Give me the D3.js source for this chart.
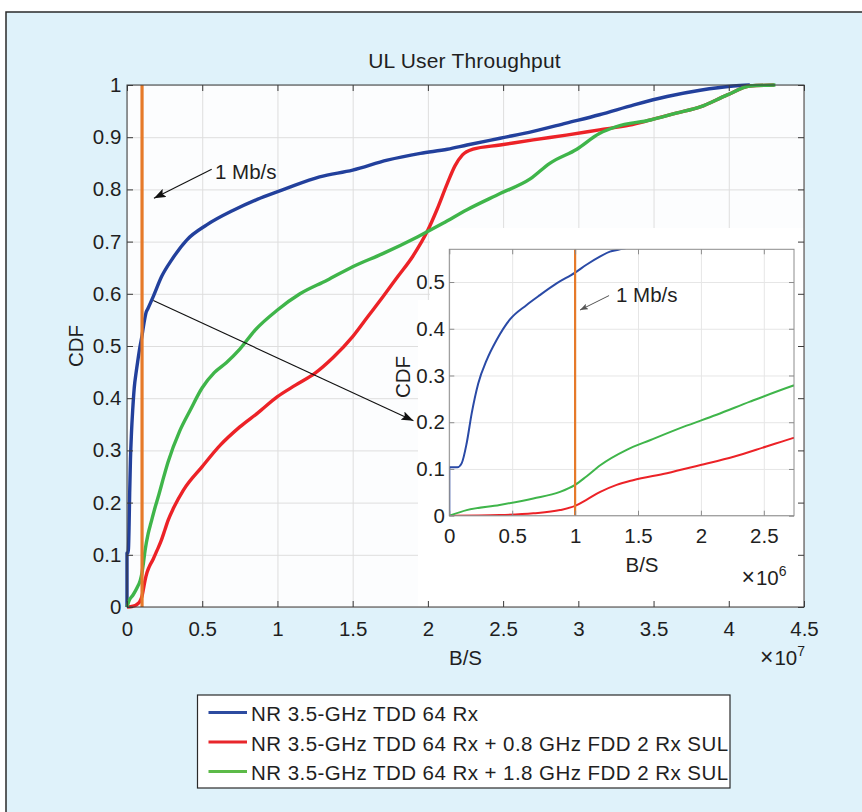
<!DOCTYPE html>
<html><head><meta charset="utf-8">
<script src="https://cdn.jsdelivr.net/npm/d3@7/dist/d3.min.js"></script>
<style>
body{margin:0;background:#fff}
svg{display:block}
text{font-family:"Liberation Sans",Arial,Helvetica,sans-serif;fill:#1f1f1f}
</style>
</head><body>
<svg id="chart" width="862" height="812"></svg>
<script>
// ---------------- data (B/S, CDF) ----------------
const seriesNames = [
  "NR 3.5-GHz TDD 64 Rx",
  "NR 3.5-GHz TDD 64 Rx + 0.8 GHz FDD 2 Rx SUL",
  "NR 3.5-GHz TDD 64 Rx + 1.8 GHz FDD 2 Rx SUL"
];
const blueData = [
  [0,0],[1,0.1035],[0.064e6,0.1035],[0.098e6,0.112],[0.138e6,0.155],[0.178e6,0.219],
  [0.23e6,0.283],[0.297e6,0.333],[0.376e6,0.376],[0.482e6,0.42],[0.615e6,0.451],
  [0.72e6,0.472],[0.853e6,0.497],[1.0e6,0.52],[1.09e6,0.537],[1.2e6,0.555],
  [1.277e6,0.565],[1.378e6,0.571],[1.75e6,0.595],[2.3e6,0.633],[2.97e6,0.665],
  [3.97e6,0.703],[5.3e6,0.732],[7.07e6,0.76],[8.84e6,0.783],[10.6e6,0.802],
  [12.8e6,0.824],[15e6,0.837],[17.3e6,0.856],[19.5e6,0.869],[21.3e6,0.877],
  [22.6e6,0.885],[24.8e6,0.898],[27e6,0.911],[29.2e6,0.927],[31.4e6,0.943],
  [33.7e6,0.962],[35.9e6,0.978],[38.1e6,0.99],[40.3e6,0.998],[41.4e6,1.0]
];
const redData = [
  [0,0],[0.4e6,0.0014],[0.668e6,0.005],[0.88e6,0.012],[1.0e6,0.021],[1.09e6,0.034],
  [1.2e6,0.051],[1.33e6,0.066],[1.46e6,0.076],[1.73e6,0.091],[1.99e6,0.108],
  [2.26e6,0.126],[2.52e6,0.148],[2.73e6,0.166],[3.1e6,0.19],[3.75e6,0.224],
  [5e6,0.269],[6.2e6,0.31],[7.5e6,0.345],[8.7e6,0.372],[10e6,0.403],
  [11.2e6,0.425],[12.5e6,0.448],[13.7e6,0.478],[15e6,0.518],[16e6,0.556],
  [17e6,0.594],[18e6,0.633],[19e6,0.672],[20e6,0.722],[20.6e6,0.761],
  [21.3e6,0.812],[21.8e6,0.845],[22.3e6,0.866],[23e6,0.877],[24.8e6,0.885],
  [27e6,0.895],[29.2e6,0.904],[31.4e6,0.914],[33.4e6,0.923],[34.8e6,0.933],
  [36.5e6,0.946],[38.1e6,0.958],[39.9e6,0.981],[41.4e6,0.998],[43e6,1.0]
];
const greenData = [
  [0,0],[0.138e6,0.012],[0.4e6,0.023],[0.668e6,0.037],[0.88e6,0.051],[1.0e6,0.066],
  [1.09e6,0.084],[1.2e6,0.108],[1.41e6,0.141],[1.6e6,0.162],[1.86e6,0.19],
  [2.125e6,0.216],[2.39e6,0.244],[2.73e6,0.278],[3.5e6,0.337],[4.2e6,0.377],
  [5e6,0.42],[5.8e6,0.449],[6.6e6,0.468],[7.5e6,0.494],[8.5e6,0.53],
  [10e6,0.569],[11.5e6,0.6],[13.3e6,0.626],[15e6,0.652],[17e6,0.677],
  [19.3e6,0.709],[21e6,0.735],[22.6e6,0.761],[24.8e6,0.792],[26.8e6,0.82],
  [28.1e6,0.85],[29.9e6,0.877],[31.4e6,0.907],[32.5e6,0.92],[34.8e6,0.933],
  [36.5e6,0.946],[38.1e6,0.958],[39.9e6,0.981],[41.4e6,0.998],[43.1e6,1.0]
];
const thresholdValue = 1e6; // 1 Mb/s

const mainXTicks = [0,0.5e7,1e7,1.5e7,2e7,2.5e7,3e7,3.5e7,4e7,4.5e7];
const mainXTickLabels = ["0","0.5","1","1.5","2","2.5","3","3.5","4","4.5"];
const mainYTicks = [0,0.1,0.2,0.3,0.4,0.5,0.6,0.7,0.8,0.9,1];
const mainYTickLabels = ["0","0.1","0.2","0.3","0.4","0.5","0.6","0.7","0.8","0.9","1"];
const insetXTicks = [0,0.5e6,1e6,1.5e6,2e6,2.5e6];
const insetXTickLabels = ["0","0.5","1","1.5","2","2.5"];
const insetYTicks = [0,0.1,0.2,0.3,0.4,0.5];
const insetYTickLabels = ["0","0.1","0.2","0.3","0.4","0.5"];

// ---------------- styles ----------------
const colors = ["#22409c","#ec2227","#3fb54a"];
const insetColors = ["#2a4aa6","#ec2227","#3fb54a"];
const legendColors = ["#2d4ba0","#e8262b","#5cba48"];
const orange = "#e67a2a";
const FS = 20.5;

const svg = d3.select("#chart");
const defs = svg.append("defs");
function marker(id, color, len, wid){
  defs.append("marker").attr("id",id).attr("markerUnits","userSpaceOnUse")
    .attr("viewBox",`0 0 ${len} ${wid}`).attr("markerWidth",len).attr("markerHeight",wid)
    .attr("refX",len).attr("refY",wid/2).attr("orient","auto")
    .append("path").attr("d",`M0,0L${len},${wid/2}L0,${wid}L${len*0.2},${wid/2}Z`).attr("fill",color);
}
marker("ahBlack","#111",12,9);
marker("ahGray","#555",8,6);

// frame
svg.append("rect").attr("x",6).attr("y",12).attr("width",900).attr("height",900)
  .attr("fill","#dff2fa").attr("stroke","#2a2a2a").attr("stroke-width",1.5);

// scales
const xMain = d3.scaleLinear().domain([0,4.5e7]).range([127,804]);
const yMain = d3.scaleLinear().domain([0,1]).range([607,85]);
const xIn = d3.scaleLinear().domain([0,2.74e6]).range([449.3,794]);
const yIn = d3.scaleLinear().domain([0,0.57]).range([515.7,249.3]);

function axesBox(g, x, y, xt, yt, o){
  const [x0,x1] = x.range(), [y0,y1] = y.range();
  g.append("rect").attr("x",x0).attr("y",y1).attr("width",x1-x0).attr("height",y0-y1).attr("fill",o.bg);
  const gx = g.append("g").attr("transform",`translate(0,${y0})`)
    .call(d3.axisBottom(x).tickValues(xt).tickSize(-(y0-y1)).tickFormat(""));
  const gy = g.append("g").attr("transform",`translate(${x0},0)`)
    .call(d3.axisLeft(y).tickValues(yt).tickSize(-(x1-x0)).tickFormat(""));
  [gx,gy].forEach(a=>{a.select(".domain").remove(); a.selectAll("line").attr("stroke",o.grid).attr("stroke-width",1);});
}
function axesFrame(g, x, y, xt, xl, yt, yl, o){
  const [x0,x1] = x.range(), [y0,y1] = y.range();
  const style = a => { a.select(".domain").remove(); a.attr("font-size",null).attr("font-family",null);
    a.selectAll("line").attr("stroke",o.axis).attr("stroke-width",1);
    a.selectAll("text").attr("font-size",FS).style("fill","#1f1f1f"); };
  g.append("g").attr("transform",`translate(0,${y0})`)
    .call(d3.axisBottom(x).tickValues(xt).tickSizeInner(-o.tick).tickSizeOuter(0).tickPadding(o.xpad).tickFormat((d,i)=>xl[i])).call(style);
  g.append("g").attr("transform",`translate(0,${y1})`)
    .call(d3.axisTop(x).tickValues(xt).tickSizeInner(-o.tick).tickSizeOuter(0).tickFormat("")).call(style);
  g.append("g").attr("transform",`translate(${x0},0)`)
    .call(d3.axisLeft(y).tickValues(yt).tickSizeInner(-o.tick).tickSizeOuter(0).tickPadding(o.ypad).tickFormat((d,i)=>yl[i])).call(style);
  g.append("g").attr("transform",`translate(${x1},0)`)
    .call(d3.axisRight(y).tickValues(yt).tickSizeInner(-o.tick).tickSizeOuter(0).tickFormat("")).call(style);
  g.append("rect").attr("x",x0).attr("y",y1).attr("width",x1-x0).attr("height",y0-y1)
    .attr("fill","none").attr("stroke",o.axis).attr("stroke-width",1);
}

// ---- main axes ----
const main = svg.append("g");
axesBox(main, xMain, yMain, mainXTicks, mainYTicks, {bg:"#fcfdfe", grid:"#dedede"});

// inset background panel (covers main grid)
main.append("rect").attr("x",430).attr("y",228).attr("width",804-430).attr("height",300-228).attr("fill","#ffffff");
main.append("rect").attr("x",418).attr("y",300).attr("width",804-418).attr("height",607-300).attr("fill","#ffffff");

const lineMain = d3.line().x(d=>xMain(d[0])).y(d=>yMain(d[1])).curve(d3.curveMonotoneX);
[blueData, redData, greenData].forEach((data,i)=>{
  main.append("path").datum(data).attr("d",lineMain).attr("fill","none")
    .attr("stroke",colors[i]).attr("stroke-width",3.4).attr("stroke-linejoin","round");
});
main.append("line").attr("x1",xMain(thresholdValue)).attr("x2",xMain(thresholdValue))
  .attr("y1",yMain(0)).attr("y2",yMain(1)).attr("stroke",orange).attr("stroke-width",3.2);

axesFrame(main, xMain, yMain, mainXTicks, mainXTickLabels, mainYTicks, mainYTickLabels, {axis:"#3a3a3a", tick:6, xpad:14.5, ypad:5.7});

// main annotations
main.append("line").attr("x1",xMain(5.63e6)).attr("y1",yMain(0.8385)).attr("x2",xMain(1.79e6)).attr("y2",yMain(0.783))
  .attr("stroke","#111").attr("stroke-width",1.1).attr("marker-end","url(#ahBlack)");
main.append("text").attr("x",xMain(5.85e6)).attr("y",yMain(0.82)).attr("font-size",FS).text("1 Mb/s");
main.append("line").attr("x1",xMain(1.75e6)).attr("y1",yMain(0.587)).attr("x2",xMain(19.04e6)).attr("y2",yMain(0.357))
  .attr("stroke","#111").attr("stroke-width",1.1).attr("marker-end","url(#ahBlack)");

// titles / labels
svg.append("text").attr("x",464.5).attr("y",68).attr("text-anchor","middle").attr("font-size",21)
  .attr("letter-spacing",0.2).text("UL User Throughput");
svg.append("text").attr("x",465.5).attr("y",665).attr("text-anchor","middle").attr("font-size",FS).text("B/S");
svg.append("text").attr("transform","translate(83,346) rotate(-90)").attr("text-anchor","middle").attr("font-size",FS).text("CDF");
const e7 = svg.append("text").attr("x",760).attr("y",665).attr("font-size",FS);
e7.append("tspan").attr("font-size",23).text("×");
e7.append("tspan").attr("dx",1).text("10");
e7.append("tspan").attr("dy",-9).attr("font-size",14).text("7");

// ---- inset ----
const inset = svg.append("g");
axesBox(inset, xIn, yIn, insetXTicks, insetYTicks, {bg:"#ffffff", grid:"#e6e6e6"});
const clip = defs.append("clipPath").attr("id","insetClip");
clip.append("rect").attr("x",449.3).attr("y",249.3).attr("width",794-449.3).attr("height",515.7-249.3);
const lineIn = d3.line().x(d=>xIn(d[0])).y(d=>yIn(d[1])).curve(d3.curveMonotoneX);
const insetPlot = inset.append("g").attr("clip-path","url(#insetClip)");
[blueData, redData, greenData].forEach((data,i)=>{
  insetPlot.append("path").datum(data.filter(d=>d[0]<=3.6e6)).attr("d",lineIn).attr("fill","none")
    .attr("stroke",insetColors[i]).attr("stroke-width",2).attr("stroke-linejoin","round");
});
insetPlot.append("line").attr("x1",xIn(thresholdValue)).attr("x2",xIn(thresholdValue))
  .attr("y1",yIn(0)).attr("y2",yIn(0.57)).attr("stroke",orange).attr("stroke-width",2.2);
axesFrame(inset, xIn, yIn, insetXTicks, insetXTickLabels, insetYTicks, insetYTickLabels, {axis:"#8c8c8c", tick:5, xpad:12.8, ypad:4.5});
inset.append("line").attr("x1",xIn(1.27e6)).attr("y1",yIn(0.471)).attr("x2",xIn(1.039e6)).attr("y2",yIn(0.44))
  .attr("stroke","#555").attr("stroke-width",1).attr("marker-end","url(#ahGray)");
inset.append("text").attr("x",xIn(1.325e6)).attr("y",yIn(0.458)).attr("font-size",FS).text("1 Mb/s");
svg.append("text").attr("x",642).attr("y",572).attr("text-anchor","middle").attr("font-size",FS).text("B/S");
svg.append("text").attr("transform","translate(410,377) rotate(-90)").attr("text-anchor","middle").attr("font-size",FS).text("CDF");
const e6 = svg.append("text").attr("x",741.5).attr("y",585).attr("font-size",FS);
e6.append("tspan").attr("font-size",23).text("×");
e6.append("tspan").attr("dx",1).text("10");
e6.append("tspan").attr("dy",-9).attr("font-size",14).text("6");

// ---- legend ----
const lg = svg.append("g");
lg.append("rect").attr("x",197.5).attr("y",695).attr("width",532.5).attr("height",93)
  .attr("fill","#ffffff").attr("stroke","#2a2a2a").attr("stroke-width",1.2);
seriesNames.forEach((name,i)=>{
  const yb = 721 + i*29.5;
  lg.append("line").attr("x1",208.5).attr("x2",247).attr("y1",yb-8.5).attr("y2",yb-8.5)
    .attr("stroke",legendColors[i]).attr("stroke-width",3);
  lg.append("text").attr("x",251).attr("y",yb).attr("font-size",FS).attr("letter-spacing",0.45).text(name);
});
</script>
</body></html>
